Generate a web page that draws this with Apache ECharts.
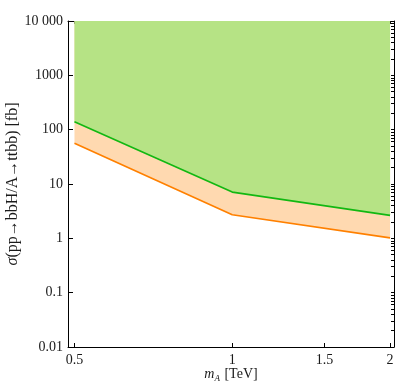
<!DOCTYPE html>
<html>
<head>
<meta charset="UTF-8">
<title>chart</title>
<script src="https://cdn.jsdelivr.net/npm/echarts@6/dist/echarts.min.js"></script>
<style>
  html, body { margin: 0; padding: 0; background: #fff; }
  #main { width: 400px; height: 392px; }
</style>
</head>
<body>
<div id="main"></div>
<script>
// data
var massA = [0.5, 1, 2];              // m_A [TeV]
var limitGreen = [140, 7.1, 2.65];     // upper curve (green)
var limitOrange = [56, 2.72, 1.02];    // lower curve (orange)

var xTickValues = [0.5, 1, 1.5, 2];
var xTickLabels = ['0.5', '1', '1.5', '2'];
var yTickValues = [0.01, 0.1, 1, 10, 100, 1000, 10000];
var yTickLabels = ['0.01', '0.1', '1', '10', '100', '1000', '10 000'];

function pairs(xs, ys) {
  var out = [];
  for (var i = 0; i < xs.length; i++) out.push([xs[i], ys[i]]);
  return out;
}

// minor tick positions for the frame (top / right)
var topTicks = [];
for (var t = 5; t <= 20; t++) topTicks.push(t / 10);
var rightTicks = [];
for (var e = -2; e <= 3; e++) {
  for (var m = 1; m <= 9; m++) rightTicks.push(m * Math.pow(10, e));
}
rightTicks.push(10000);

var serif = '"Liberation Serif", "DejaVu Serif", serif';
var black = '#000';
var txt = '#1a1a1a';

var myChart = echarts.init(document.getElementById('main'));

var option = {
  animation: false,
  textStyle: { fontFamily: serif },
  grid: { left: 68, right: 6, top: 21, bottom: 45, containLabel: false, outerBoundsMode: 'none' },
  xAxis: [{
    type: 'log',
    min: 0.486,
    max: 2.035,
    name: '{i|m}{s|A} [TeV]',
    nameLocation: 'middle',
    nameMoveOverlap: false,
    nameGap: 19,
    nameTextStyle: {
      fontFamily: serif, fontSize: 14, color: txt,
      rich: {
        i: { fontFamily: serif, fontSize: 14, fontStyle: 'italic', color: txt },
        s: { fontFamily: serif, fontSize: 9, fontStyle: 'italic', color: txt, padding: [8, 1, 0, 0] }
      }
    },
    axisLine: { onZero: false, lineStyle: { color: black, width: 1 } },
    axisTick: { inside: true, length: 4, customValues: xTickValues, lineStyle: { color: black } },
    axisLabel: {
      customValues: xTickValues,
      margin: 6,
      fontFamily: serif, fontSize: 14, color: txt,
      formatter: function (v) {
        for (var i = 0; i < xTickValues.length; i++) {
          if (Math.abs(v - xTickValues[i]) < 1e-6) return xTickLabels[i];
        }
        return '';
      }
    },
    splitLine: { show: false }
  }, {
    type: 'log',
    position: 'top',
    min: 0.486,
    max: 2.035,
    axisLine: { onZero: false, lineStyle: { color: black, width: 1 } },
    axisTick: { inside: true, length: 3, customValues: topTicks, lineStyle: { color: black } },
    axisLabel: { show: false },
    splitLine: { show: false }
  }],
  yAxis: [{
    type: 'log',
    min: 0.01,
    max: 10000,
    name: '{i|σ}(pp→bbH/A→ttbb) [fb]',
    nameLocation: 'middle',
    nameMoveOverlap: false,
    nameGap: 47,
    nameTextStyle: {
      fontFamily: serif, fontSize: 16, color: txt,
      rich: {
        i: { fontFamily: serif, fontSize: 16, fontStyle: 'italic', color: txt }
      }
    },
    axisLine: { onZero: false, lineStyle: { color: black, width: 1 } },
    axisTick: { inside: true, length: 5, customValues: yTickValues, lineStyle: { color: black } },
    axisLabel: {
      customValues: yTickValues,
      margin: 5,
      fontFamily: serif, fontSize: 14, color: txt,
      formatter: function (v) {
        var k = Math.round(Math.log10(v)) + 2;
        return yTickLabels[k] || '';
      }
    },
    splitLine: { show: false }
  }, {
    type: 'log',
    position: 'right',
    min: 0.01,
    max: 10000,
    axisLine: { onZero: false, lineStyle: { color: black, width: 1 } },
    axisTick: { inside: true, length: 3, customValues: rightTicks, lineStyle: { color: black } },
    axisLabel: { show: false },
    splitLine: { show: false }
  }],
  series: [{
    name: 'orange',
    type: 'line',
    data: pairs(massA, limitOrange),
    symbol: 'none',
    z: 2,
    lineStyle: { color: '#ff8000', width: 1.7 },
    areaStyle: { color: '#ffd9b0', opacity: 1, origin: 'end' }
  }, {
    name: 'green',
    type: 'line',
    data: pairs(massA, limitGreen),
    symbol: 'none',
    z: 3,
    lineStyle: { color: '#12b812', width: 1.7 },
    areaStyle: { color: '#b6e385', opacity: 1, origin: 'end' }
  }]
};

myChart.setOption(option);
</script>
</body>
</html>
